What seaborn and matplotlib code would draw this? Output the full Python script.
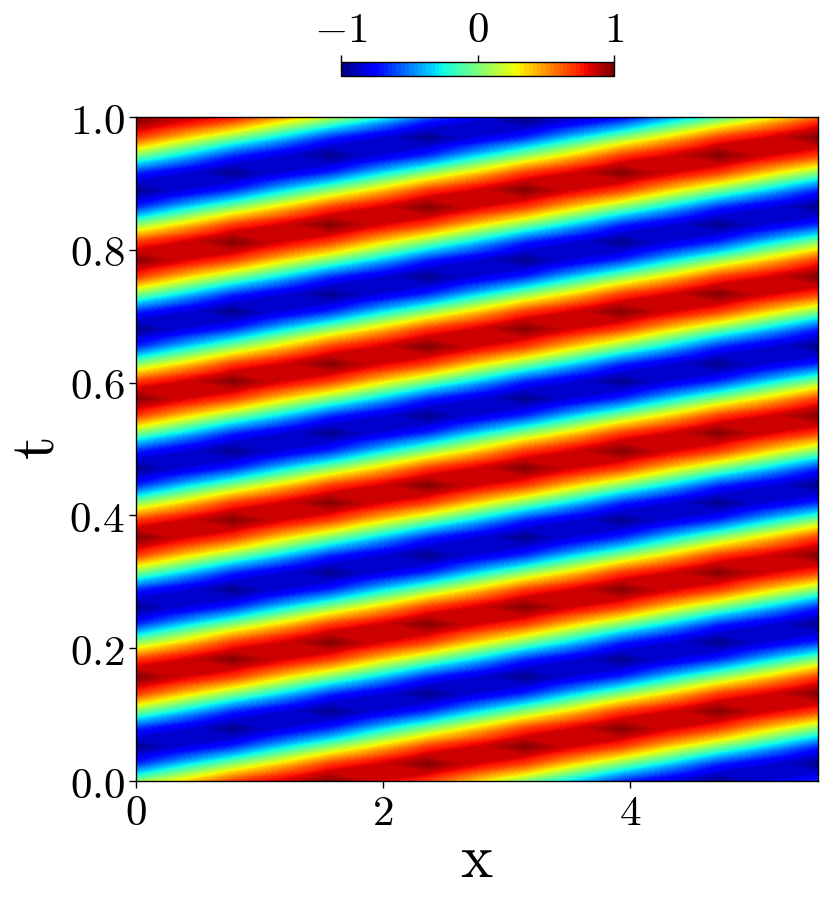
import numpy as np
import matplotlib
matplotlib.use('Agg')
import matplotlib.pyplot as plt
import seaborn as sns

sns.set_theme(style="white", rc={"axes.edgecolor": "black", "xtick.bottom": True, "ytick.left": True,
                                 "xtick.color": "black", "ytick.color": "black", "text.color": "black",
                                 "axes.labelcolor": "black", "mathtext.fontset": "cm"})

# Sampled columns (x) and rows (t) of the field
x_grid = [0.000, 0.785, 1.571, 2.356, 3.142, 3.927, 4.712, 5.520]
t_grid = [0.000, 0.013, 0.026, 0.039, 0.052, 0.065, 0.079, 0.092, 0.105, 0.118, 0.131, 0.144, 0.157,
          0.170, 0.183, 0.196, 0.209, 0.223, 0.236, 0.249, 0.262, 0.275, 0.288, 0.301, 0.314, 0.327,
          0.340, 0.353, 0.367, 0.380, 0.393, 0.406, 0.419, 0.432, 0.445, 0.458, 0.471, 0.484, 0.497,
          0.511, 0.524, 0.537, 0.550, 0.563, 0.576, 0.589, 0.602, 0.615, 0.628, 0.641, 0.654, 0.668,
          0.681, 0.694, 0.707, 0.720, 0.733, 0.746, 0.759, 0.772, 0.785, 0.798, 0.812, 0.825, 0.838,
          0.851, 0.864, 0.877, 0.890, 0.903, 0.916, 0.929, 0.942, 0.956, 0.969, 0.982, 0.995, 1.008]

# Field values, one row per t
u_values = [
    [0, .68, .98, .68, 0, -.68, -.98, -.68],
    [-.37, .37, .86, .86, .37, -.37, -.86, -.86],
    [-.68, 0, .68, .98, .68, 0, -.68, -.98],
    [-.86, -.37, .37, .86, .86, .37, -.37, -.86],
    [-.98, -.68, 0, .68, .98, .68, 0, -.68],
    [-.86, -.86, -.37, .37, .86, .86, .37, -.37],
    [-.68, -.98, -.68, 0, .68, .98, .68, 0],
    [-.37, -.86, -.86, -.37, .37, .86, .86, .37],
    [0, -.68, -.98, -.68, 0, .68, .98, .68],
    [.37, -.37, -.86, -.86, -.37, .37, .86, .86],
    [.68, 0, -.68, -.98, -.68, 0, .68, .98],
    [.86, .37, -.37, -.86, -.86, -.37, .37, .86],
    [.98, .68, 0, -.68, -.98, -.68, 0, .68],
    [.86, .86, .37, -.37, -.86, -.86, -.37, .37],
    [.68, .98, .68, 0, -.68, -.98, -.68, 0],
    [.37, .86, .86, .37, -.37, -.86, -.86, -.37],
    [0, .68, .98, .68, 0, -.68, -.98, -.68],
    [-.37, .37, .86, .86, .37, -.37, -.86, -.86],
    [-.68, 0, .68, .98, .68, 0, -.68, -.98],
    [-.86, -.37, .37, .86, .86, .37, -.37, -.86],
    [-.98, -.68, 0, .68, .98, .68, 0, -.68],
    [-.86, -.86, -.37, .37, .86, .86, .37, -.37],
    [-.68, -.98, -.68, 0, .68, .98, .68, 0],
    [-.37, -.86, -.86, -.37, .37, .86, .86, .37],
    [0, -.68, -.98, -.68, 0, .68, .98, .68],
    [.37, -.37, -.86, -.86, -.37, .37, .86, .86],
    [.68, 0, -.68, -.98, -.68, 0, .68, .98],
    [.86, .37, -.37, -.86, -.86, -.37, .37, .86],
    [.98, .68, 0, -.68, -.98, -.68, 0, .68],
    [.86, .86, .37, -.37, -.86, -.86, -.37, .37],
    [.68, .98, .68, 0, -.68, -.98, -.68, 0],
    [.37, .86, .86, .37, -.37, -.86, -.86, -.37],
    [0, .68, .98, .68, 0, -.68, -.98, -.68],
    [-.37, .37, .86, .86, .37, -.37, -.86, -.86],
    [-.68, 0, .68, .98, .68, 0, -.68, -.98],
    [-.86, -.37, .37, .86, .86, .37, -.37, -.86],
    [-.98, -.68, 0, .68, .98, .68, 0, -.68],
    [-.86, -.86, -.37, .37, .86, .86, .37, -.37],
    [-.68, -.98, -.68, 0, .68, .98, .68, 0],
    [-.37, -.86, -.86, -.37, .37, .86, .86, .37],
    [0, -.68, -.98, -.68, 0, .68, .98, .68],
    [.37, -.37, -.86, -.86, -.37, .37, .86, .86],
    [.68, 0, -.68, -.98, -.68, 0, .68, .98],
    [.86, .37, -.37, -.86, -.86, -.37, .37, .86],
    [.98, .68, 0, -.68, -.98, -.68, 0, .68],
    [.86, .86, .37, -.37, -.86, -.86, -.37, .37],
    [.68, .98, .68, 0, -.68, -.98, -.68, 0],
    [.37, .86, .86, .37, -.37, -.86, -.86, -.37],
    [0, .68, .98, .68, 0, -.68, -.98, -.68],
    [-.37, .37, .86, .86, .37, -.37, -.86, -.86],
    [-.68, 0, .68, .98, .68, 0, -.68, -.98],
    [-.86, -.37, .37, .86, .86, .37, -.37, -.86],
    [-.98, -.68, 0, .68, .98, .68, 0, -.68],
    [-.86, -.86, -.37, .37, .86, .86, .37, -.37],
    [-.68, -.98, -.68, 0, .68, .98, .68, 0],
    [-.37, -.86, -.86, -.37, .37, .86, .86, .37],
    [0, -.68, -.98, -.68, 0, .68, .98, .68],
    [.37, -.37, -.86, -.86, -.37, .37, .86, .86],
    [.68, 0, -.68, -.98, -.68, 0, .68, .98],
    [.86, .37, -.37, -.86, -.86, -.37, .37, .86],
    [.98, .68, 0, -.68, -.98, -.68, 0, .68],
    [.86, .86, .37, -.37, -.86, -.86, -.37, .37],
    [.68, .98, .68, 0, -.68, -.98, -.68, 0],
    [.37, .86, .86, .37, -.37, -.86, -.86, -.37],
    [0, .68, .98, .68, 0, -.68, -.98, -.68],
    [-.37, .37, .86, .86, .37, -.37, -.86, -.86],
    [-.68, 0, .68, .98, .68, 0, -.68, -.98],
    [-.86, -.37, .37, .86, .86, .37, -.37, -.86],
    [-.98, -.68, 0, .68, .98, .68, 0, -.68],
    [-.86, -.86, -.37, .37, .86, .86, .37, -.37],
    [-.68, -.98, -.68, 0, .68, .98, .68, 0],
    [-.37, -.86, -.86, -.37, .37, .86, .86, .37],
    [0, -.68, -.98, -.68, 0, .68, .98, .68],
    [.37, -.37, -.86, -.86, -.37, .37, .86, .86],
    [.68, 0, -.68, -.98, -.68, 0, .68, .98],
    [.86, .37, -.37, -.86, -.86, -.37, .37, .86],
    [.98, .68, 0, -.68, -.98, -.68, 0, .68],
    [.86, .86, .37, -.37, -.86, -.86, -.37, .37],
]

x_ticks = [0, 2, 4]
x_tick_labels = ['$0$', '$2$', '$4$']
t_ticks = [0.0, 0.2, 0.4, 0.6, 0.8, 1.0]
t_tick_labels = ['$0.0$', '$0.2$', '$0.4$', '$0.6$', '$0.8$', '$1.0$']
cbar_ticks = [-1, 0, 1]
cbar_tick_labels = ['$-1$', '$0$', '$1$']

W, H = 830, 905
fig = plt.figure(figsize=(W / 100, H / 100), dpi=100)
ax = fig.add_axes([136 / W, 1 - 781 / H, 682 / W, 664 / H])
cax = fig.add_axes([341 / W, 1 - 76 / H, 273 / W, 14 / H])

levels = np.linspace(-1.001, 1.001, 65)
mesh = ax.contourf(x_grid, t_grid, np.array(u_values), levels=levels, cmap='jet', vmin=-1, vmax=1)
ax.set_xlim(0, 5.52)
ax.set_ylim(0, 1)

ax.set_xticks(x_ticks)
ax.set_xticklabels(x_tick_labels)
ax.set_yticks(t_ticks)
ax.set_yticklabels(t_tick_labels)
ax.tick_params(labelsize=31, length=5, width=1, pad=3)
ax.set_xlabel(r'$\mathrm{x}$', fontsize=44, labelpad=-2)
ax.set_ylabel(r'$\mathrm{t}$', fontsize=44, labelpad=2)
for spine in ax.spines.values():
    spine.set_linewidth(1)

cbar = fig.colorbar(mesh, cax=cax, orientation='horizontal')
cbar.set_ticks(cbar_ticks)
cbar.set_ticklabels(cbar_tick_labels)
cbar.ax.xaxis.set_ticks_position('top')
cbar.ax.tick_params(labelsize=31, length=5, width=1, pad=3)
cbar.outline.set_linewidth(1)

fig.savefig('out.png', dpi=100)
plt.close(fig)
